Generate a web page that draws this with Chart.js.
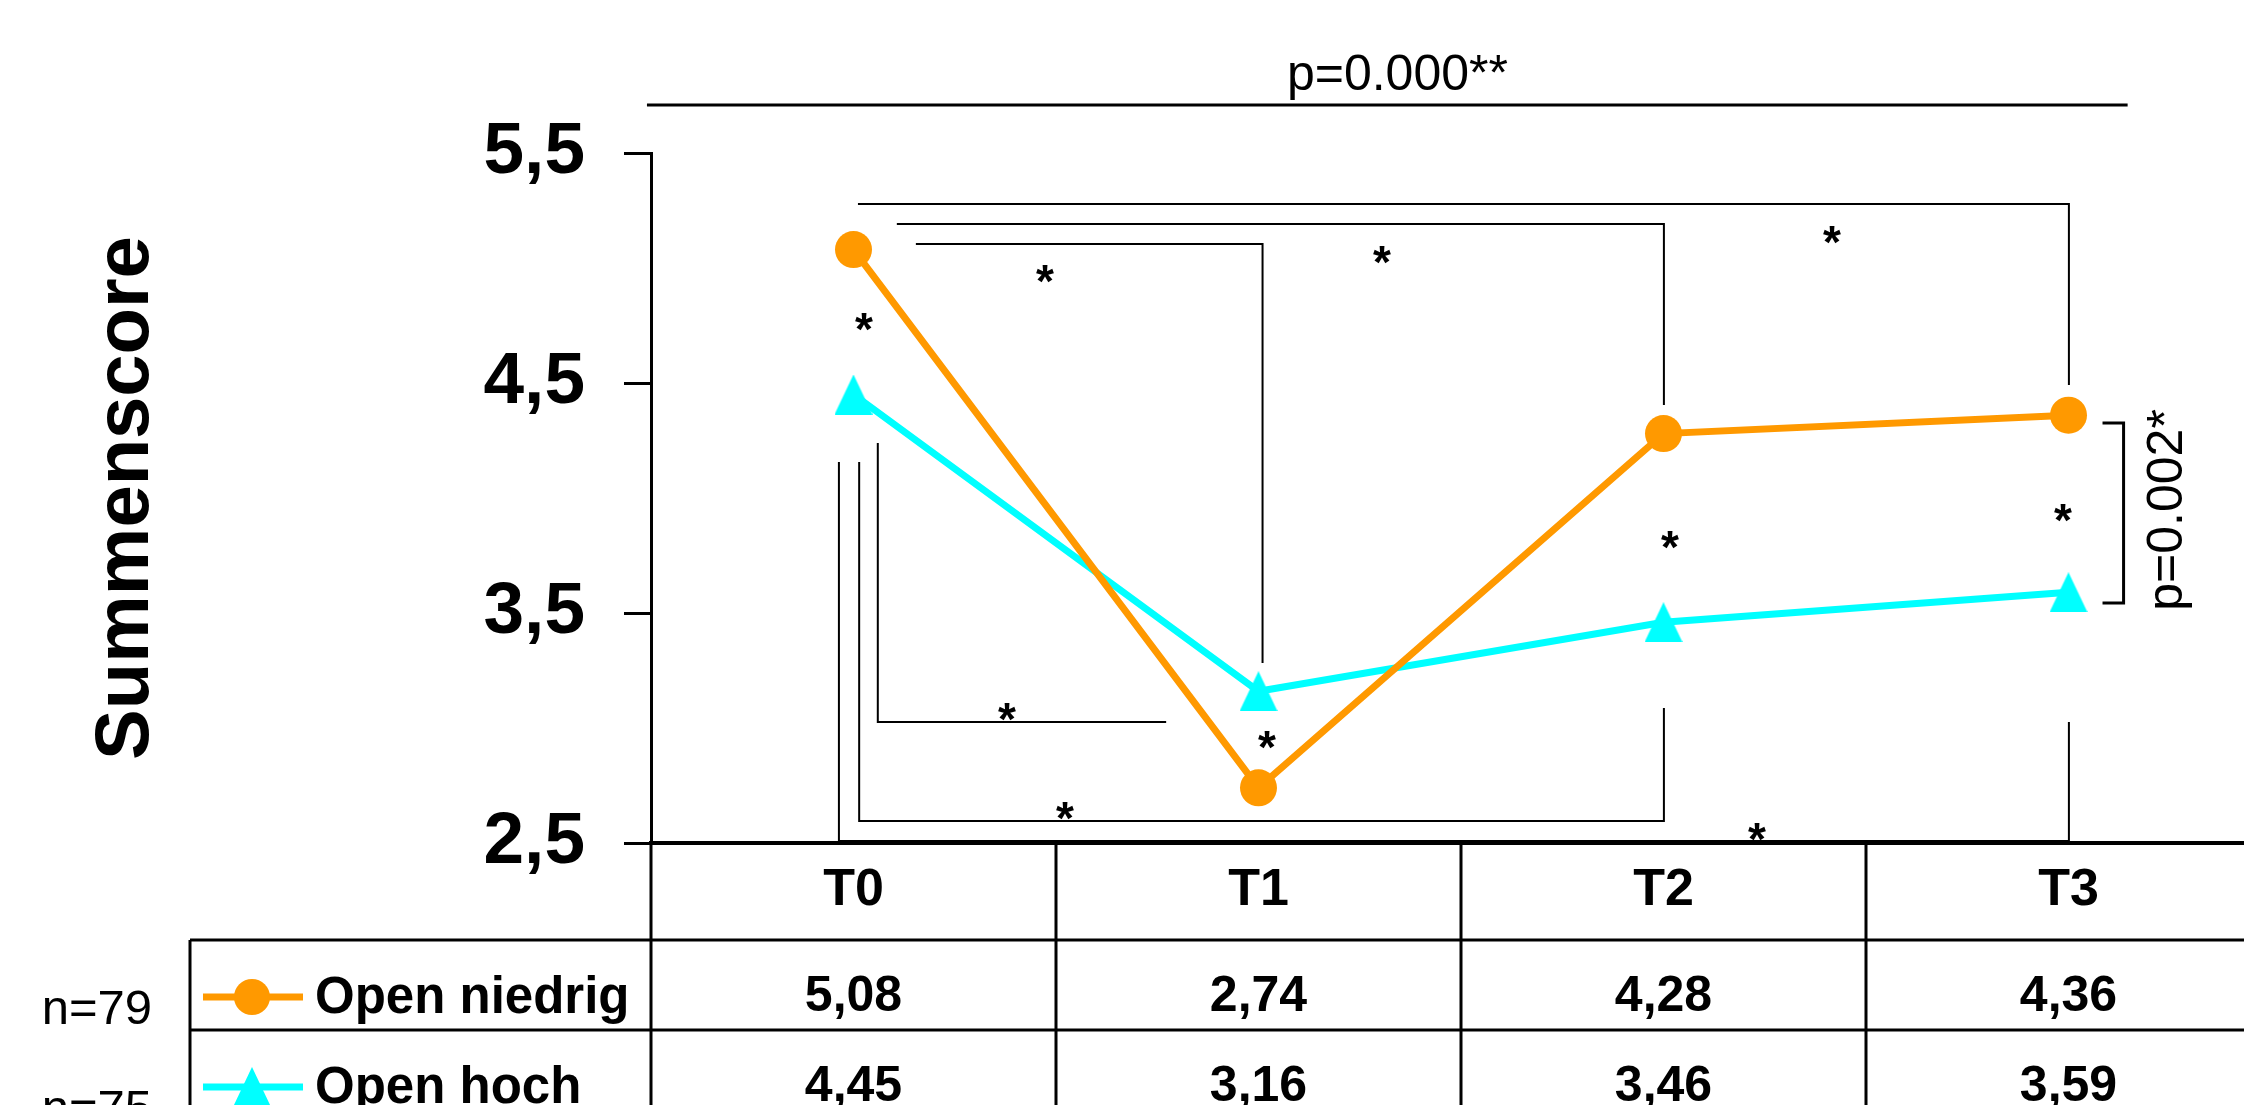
<!DOCTYPE html>
<html>
<head>
<meta charset="utf-8">
<script src="https://cdn.jsdelivr.net/npm/chart.js@4.4.1/dist/chart.umd.min.js"></script>
<style>
  html, body { margin: 0; padding: 0; background: #fff; overflow: hidden; }
  canvas { display: block; }
</style>
</head>
<body>
<canvas id="chart" width="2291" height="1105" style="width:2291px;height:1105px"></canvas>
<script>
// data
const categories = ['T0', 'T1', 'T2', 'T3'];
const openNiedrig = [5.08, 2.74, 4.28, 4.36];
const openHoch = [4.45, 3.16, 3.46, 3.59];
const seriesLabels = ['Open niedrig', 'Open hoch'];
const groupN = ['n=79', 'n=75'];
const yMin = 2.5, yMax = 5.5, yStep = 1;

// significance brackets, points as [category index, score]
const brackets = [
  {pts: [[-0.51, 5.709], [3.146, 5.709]], w: 3},
  {pts: [[0.011, 5.278], [3.001, 5.278], [3.001, 4.491]], w: 2},
  {pts: [[0.107, 5.191], [2.001, 5.191], [2.001, 4.404]], w: 2},
  {pts: [[0.154, 5.104], [1.01, 5.104], [1.01, 3.283]], w: 2},
  {pts: [[0.060, 4.239], [0.060, 3.026], [0.772, 3.026]], w: 2},
  {pts: [[0.014, 4.157], [0.014, 2.596], [2.001, 2.596], [2.001, 3.087]], w: 2},
  {pts: [[-0.036, 4.157], [-0.036, 2.509], [3.001, 2.509], [3.001, 3.026]], w: 2},
  {pts: [[3.084, 4.326], [3.136, 4.326], [3.136, 3.543], [3.084, 3.543]], w: 3}
];
const stars = [
  [0.026, 4.778], [2.416, 5.157], [1.305, 5.07], [0.473, 4.987],
  [0.379, 3.083], [0.522, 2.652], [2.231, 2.561],
  [1.021, 2.961], [2.016, 3.83], [2.986, 3.948]
];
const pLabels = [
  {text: 'p=0.000**', at: [1.343, 5.774], rotate: false},
  {text: 'p=0.002*', at: [3.28, 3.948], rotate: true}
];

const ORANGE = '#FF9900';
const CYAN = '#00FFFF';
const FONT = "'Liberation Sans', Arial, Helvetica, sans-serif";
Chart.defaults.font.family = FONT;

function makeTriangle(w, h, color) {
  const c = document.createElement('canvas');
  c.width = w; c.height = h;
  const g = c.getContext('2d');
  g.fillStyle = color;
  g.beginPath();
  g.moveTo(w / 2, 0);
  g.lineTo(w, h);
  g.lineTo(0, h);
  g.closePath();
  g.fill();
  return c;
}
const triangle = makeTriangle(38, 40, CYAN);

const fmt = v => v.toFixed(2).replace('.', ',');

// brackets, stars and p-values
const annotations = {
  id: 'annotations',
  beforeDatasetsDraw(chart) {
    const {ctx, scales: {x, y}} = chart;
    ctx.save();
    ctx.strokeStyle = '#000';
    ctx.lineCap = 'butt';
    ctx.lineJoin = 'miter';
    brackets.forEach(b => {
      ctx.lineWidth = b.w;
      ctx.beginPath();
      b.pts.forEach((p, i) => {
        const px = x.getPixelForValue(p[0]), py = y.getPixelForValue(p[1]);
        if (i === 0) ctx.moveTo(px, py); else ctx.lineTo(px, py);
      });
      ctx.stroke();
    });
    ctx.fillStyle = '#000';
    ctx.font = 'bold 46px ' + FONT;
    ctx.textAlign = 'center';
    ctx.textBaseline = 'alphabetic';
    stars.forEach(s => {
      ctx.fillText('*', x.getPixelForValue(s[0]), y.getPixelForValue(s[1]) + 26);
    });
    ctx.font = '50px ' + FONT;
    pLabels.forEach(l => {
      const px = x.getPixelForValue(l.at[0]), py = y.getPixelForValue(l.at[1]);
      ctx.save();
      ctx.translate(px, py);
      if (l.rotate) ctx.rotate(-Math.PI / 2);
      ctx.fillText(l.text, 0, 0);
      ctx.restore();
    });
    ctx.restore();
  }
};

// data table under the x axis
const dataTable = {
  id: 'dataTable',
  afterDraw(chart) {
    const {ctx, chartArea, scales: {x}} = chart;
    const edges = [];
    for (let i = 0; i <= categories.length; i++) edges.push(x.getPixelForValue(i - 0.5));
    const tableLeft = 190;
    const rowTop = x.bottom;
    const rowH = 90;
    const right = edges[edges.length - 1];
    ctx.save();
    ctx.strokeStyle = '#000';
    ctx.lineWidth = 3;
    ctx.beginPath();
    for (let r = 0; r <= 2; r++) {
      ctx.moveTo(tableLeft, rowTop + r * rowH);
      ctx.lineTo(right, rowTop + r * rowH);
    }
    ctx.moveTo(tableLeft, rowTop);
    ctx.lineTo(tableLeft, rowTop + 2 * rowH);
    edges.forEach(e => {
      ctx.moveTo(e, chartArea.bottom);
      ctx.lineTo(e, rowTop + 2 * rowH);
    });
    ctx.stroke();

    const rows = [
      {vals: openNiedrig, label: seriesLabels[0], n: groupN[0], color: ORANGE, marker: 'circle'},
      {vals: openHoch, label: seriesLabels[1], n: groupN[1], color: CYAN, marker: 'triangle'}
    ];
    rows.forEach((row, r) => {
      const base = rowTop + r * rowH + 71;
      const mid = rowTop + r * rowH + 57;
      ctx.fillStyle = '#000';
      ctx.textAlign = 'center';
      ctx.font = 'bold 50px ' + FONT;
      row.vals.forEach((v, i) => ctx.fillText(fmt(v), x.getPixelForValue(i), base));
      ctx.textAlign = 'left';
      ctx.font = 'bold 51px ' + FONT;
      ctx.fillText(row.label, 315, base + 2);
      ctx.textAlign = 'right';
      ctx.font = '49px ' + FONT;
      ctx.fillText(row.n, 152, base + 13 + r * 10);
      // legend key
      ctx.strokeStyle = row.color;
      ctx.lineWidth = 7;
      ctx.beginPath();
      ctx.moveTo(203, mid);
      ctx.lineTo(303, mid);
      ctx.stroke();
      if (row.marker === 'circle') {
        ctx.fillStyle = row.color;
        ctx.beginPath();
        ctx.arc(252, mid, 18, 0, Math.PI * 2);
        ctx.fill();
      } else {
        ctx.drawImage(triangle, 252 - triangle.width / 2, mid - triangle.height / 2);
      }
    });
    ctx.restore();
  }
};

new Chart(document.getElementById('chart'), {
  type: 'line',
  data: {
    labels: categories,
    datasets: [
      {
        label: seriesLabels[0],
        data: openNiedrig,
        borderColor: ORANGE,
        backgroundColor: ORANGE,
        borderWidth: 7,
        pointStyle: 'circle',
        pointRadius: 18.5,
        pointBorderWidth: 0,
        pointBackgroundColor: ORANGE,
        tension: 0
      },
      {
        label: seriesLabels[1],
        data: openHoch,
        borderColor: CYAN,
        backgroundColor: CYAN,
        borderWidth: 7,
        pointStyle: triangle,
        pointRadius: 20,
        pointBorderWidth: 0,
        tension: 0
      }
    ]
  },
  options: {
    responsive: false,
    animation: false,
    layout: {padding: {top: 153, bottom: 165, left: 0, right: 0}},
    plugins: {legend: {display: false}, tooltip: {enabled: false}},
    scales: {
      x: {
        type: 'category',
        offset: true,
        grid: {display: false, drawTicks: false},
        border: {display: true, color: '#000', width: 4},
        ticks: {color: '#000', font: {size: 52, weight: 'bold'}, padding: 16},
        afterFit: s => { s.height = 97; }
      },
      y: {
        min: yMin,
        max: yMax,
        grid: {drawOnChartArea: false, drawTicks: true, tickLength: 27, tickWidth: 3, tickColor: '#000'},
        border: {display: true, color: '#000', width: 3},
        ticks: {
          stepSize: yStep,
          color: '#000',
          padding: 39,
          font: {size: 73, weight: 'bold'},
          callback: v => String(v).replace('.', ',')
        },
        title: {
          display: true,
          text: 'Summenscore',
          color: '#000',
          font: {size: 76, weight: 'bold'},
          padding: {top: 81, bottom: 0}
        },
        afterFit: s => { s.width = 651; }
      }
    }
  },
  plugins: [annotations, dataTable]
});
</script>
</body>
</html>
